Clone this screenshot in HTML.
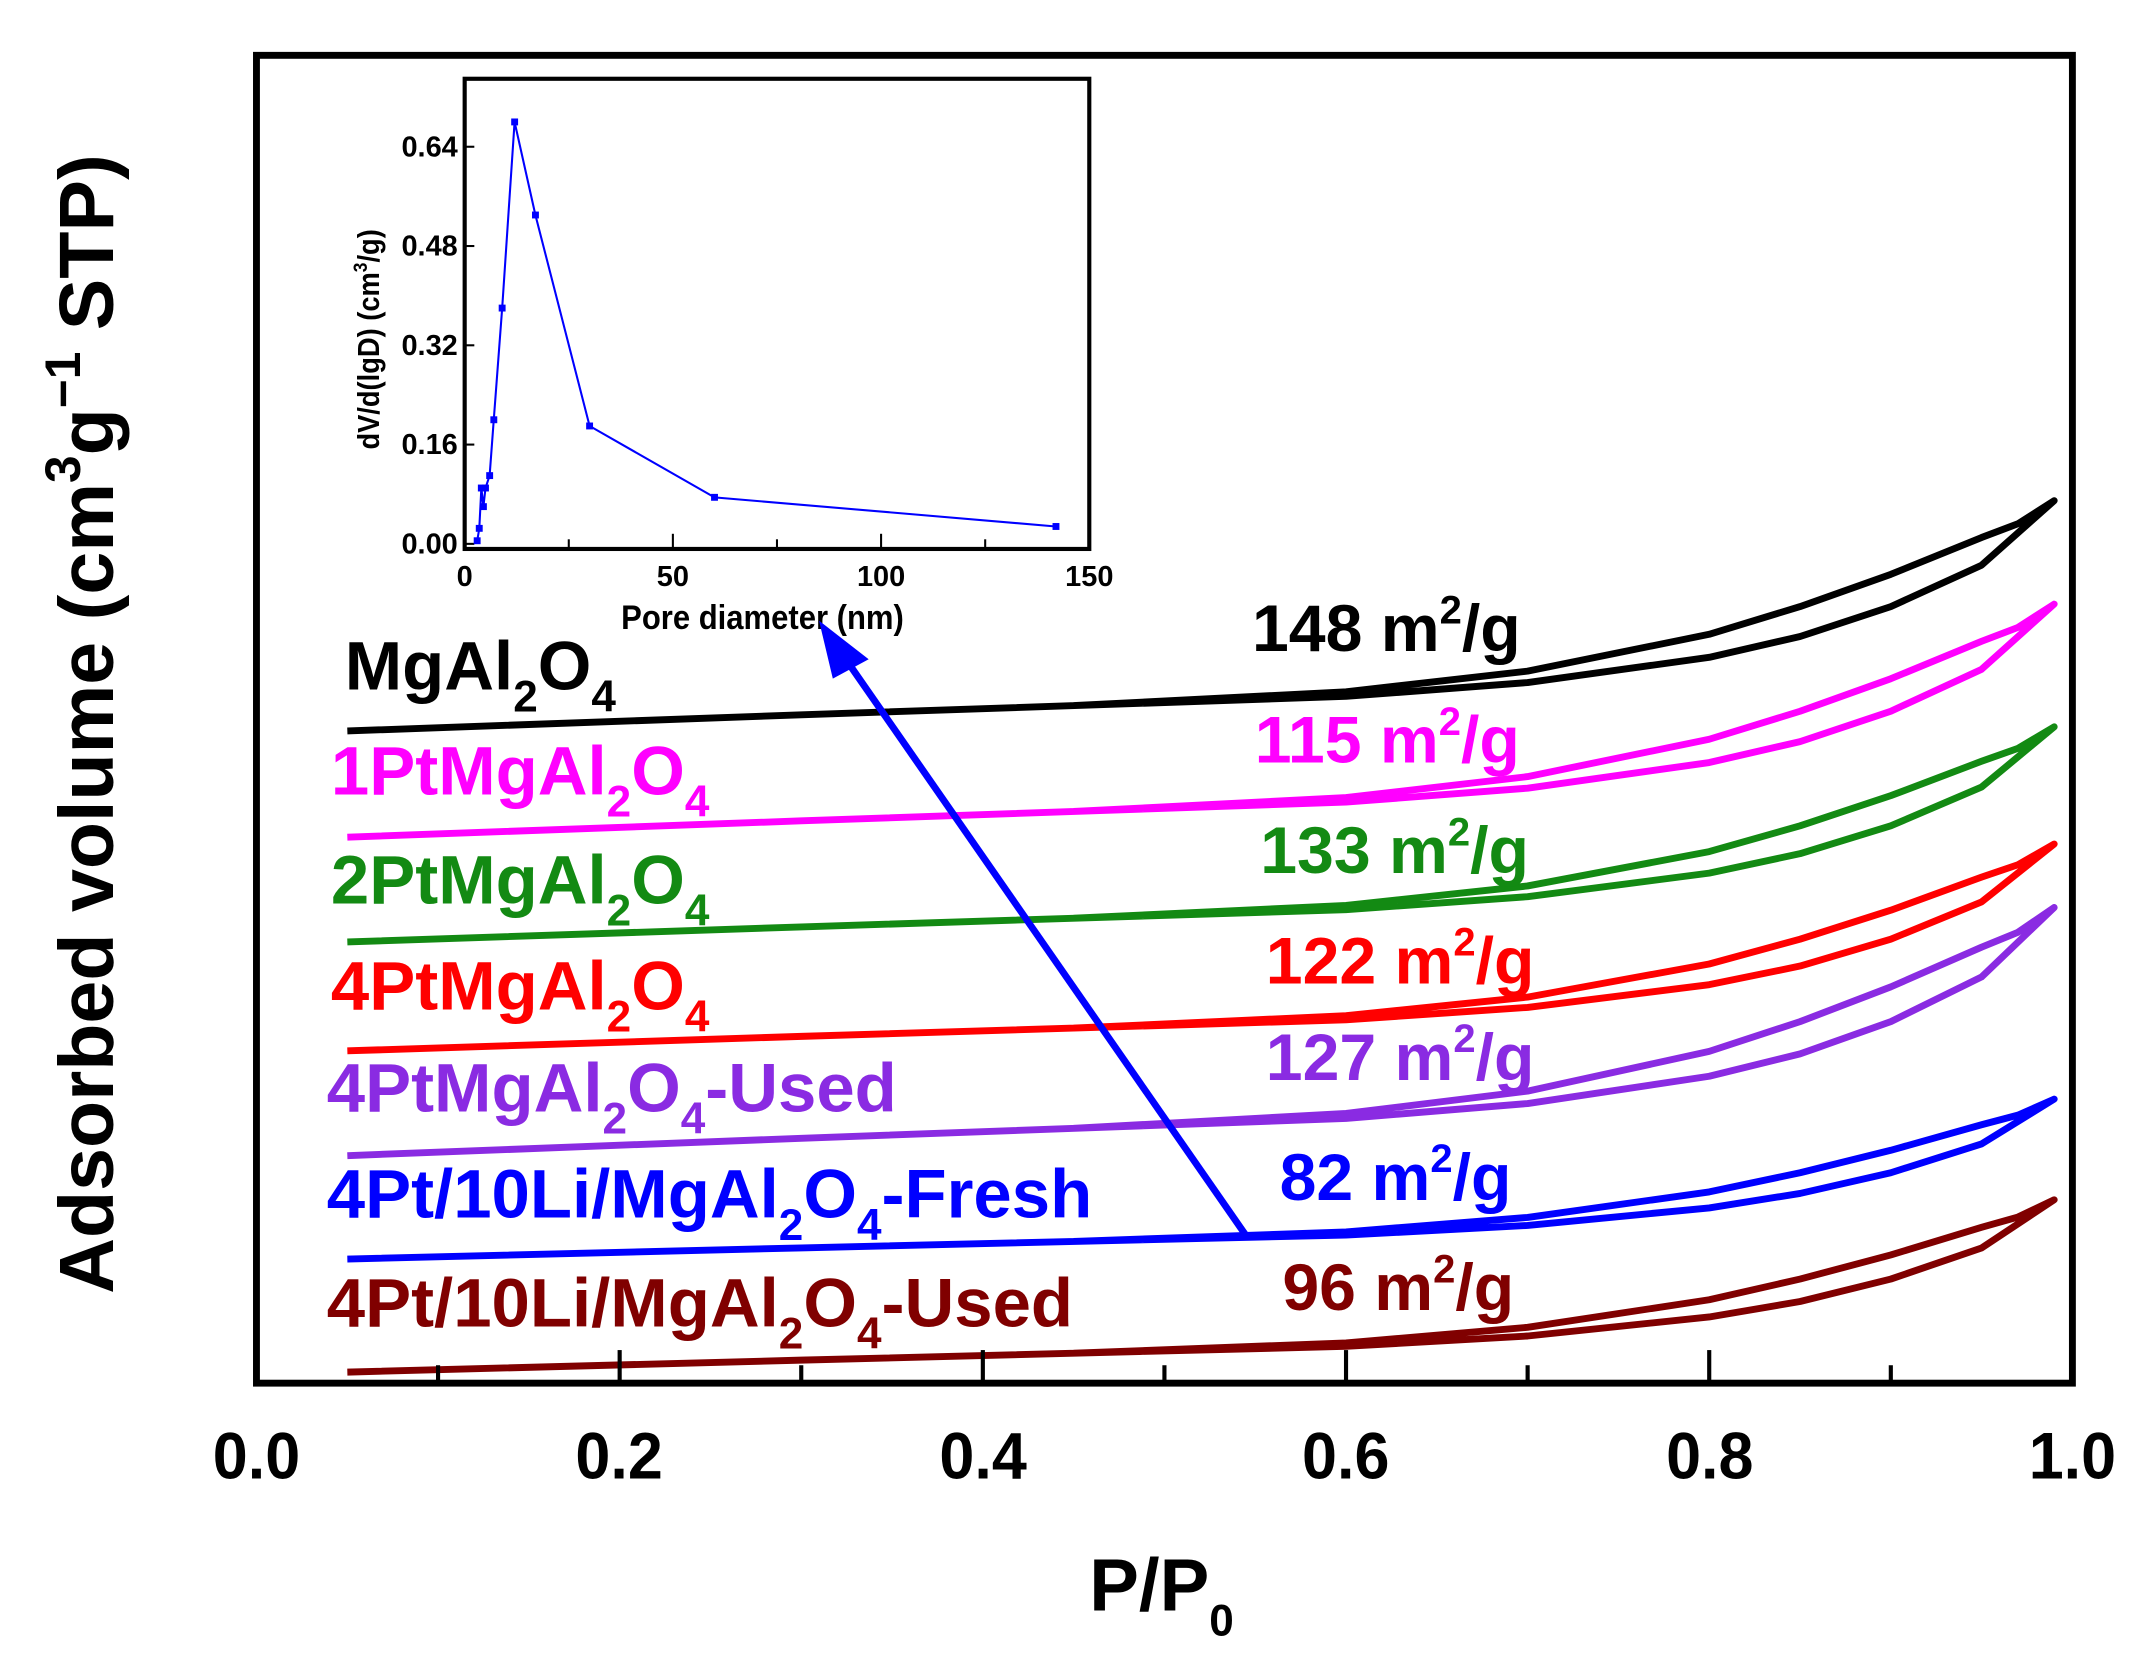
<!DOCTYPE html>
<html><head><meta charset="utf-8"><style>
html,body{margin:0;padding:0;background:#fff;}
svg{display:block}
text{font-family:"Liberation Sans",Arial,sans-serif;font-weight:bold}
</style></head><body>
<svg id="s" width="2151" height="1666" viewBox="0 0 1560 1208" xmlns="http://www.w3.org/2000/svg">
<rect x="0" y="0" width="1560" height="1208" fill="#fff"/>
<g id="curves"></g>
<rect x="186" y="40" width="1317" height="963" fill="none" stroke="#000" stroke-width="5"/>
<g id="ticks" stroke="#000" stroke-width="3"></g>
<g font-size="48" text-anchor="middle" fill="#000">
<text x="186" y="1072" transform="translate(186 0) scale(0.95 1) translate(-186 0)">0.0</text>
<text x="449" y="1072" transform="translate(449 0) scale(0.95 1) translate(-449 0)">0.2</text>
<text x="713" y="1072" transform="translate(713 0) scale(0.95 1) translate(-713 0)">0.4</text>
<text x="976" y="1072" transform="translate(976 0) scale(0.95 1) translate(-976 0)">0.6</text>
<text x="1240" y="1072" transform="translate(1240 0) scale(0.95 1) translate(-1240 0)">0.8</text>
<text x="1503" y="1072" transform="translate(1503 0) scale(0.95 1) translate(-1503 0)">1.0</text>
</g>
<text x="790" y="1168" font-size="54">P/P<tspan font-size="32" dy="18">0</tspan></text>
<text transform="translate(82 525) rotate(-90)" text-anchor="middle" font-size="56">Adsorbed volume (cm<tspan font-size="36" dy="-24">3</tspan><tspan dy="24">g</tspan><tspan font-size="36" dy="-24">−1</tspan><tspan dy="24"> STP)</tspan></text>

<g font-size="50">
<text x="250" y="500" fill="#000">MgAl<tspan font-size="32" dy="16">2</tspan><tspan dy="-16">O</tspan><tspan font-size="32" dy="16">4</tspan></text>
<text x="240" y="576" fill="#ff00ff">1PtMgAl<tspan font-size="32" dy="16">2</tspan><tspan dy="-16">O</tspan><tspan font-size="32" dy="16">4</tspan></text>
<text x="240" y="655" fill="#138a13">2PtMgAl<tspan font-size="32" dy="16">2</tspan><tspan dy="-16">O</tspan><tspan font-size="32" dy="16">4</tspan></text>
<text x="240" y="732" fill="#ff0000">4PtMgAl<tspan font-size="32" dy="16">2</tspan><tspan dy="-16">O</tspan><tspan font-size="32" dy="16">4</tspan></text>
<text x="237" y="806" fill="#8a2be2">4PtMgAl<tspan font-size="32" dy="16">2</tspan><tspan dy="-16">O</tspan><tspan font-size="32" dy="16">4</tspan><tspan dy="-16">-Used</tspan></text>
<text x="237" y="883" fill="#0000ff">4Pt/10Li/MgAl<tspan font-size="32" dy="16">2</tspan><tspan dy="-16">O</tspan><tspan font-size="32" dy="16">4</tspan><tspan dy="-16">-Fresh</tspan></text>
<text x="237" y="962" fill="#800000">4Pt/10Li/MgAl<tspan font-size="32" dy="16">2</tspan><tspan dy="-16">O</tspan><tspan font-size="32" dy="16">4</tspan><tspan dy="-16">-Used</tspan></text>
</g>
<g font-size="48">
<text x="908" y="472" fill="#000">148 m<tspan font-size="29" dy="-20">2</tspan><tspan dy="20">/g</tspan></text>
<text x="910" y="553" fill="#ff00ff">115 m<tspan font-size="29" dy="-20">2</tspan><tspan dy="20">/g</tspan></text>
<text x="914" y="633" fill="#138a13">133 m<tspan font-size="29" dy="-20">2</tspan><tspan dy="20">/g</tspan></text>
<text x="918" y="713" fill="#ff0000">122 m<tspan font-size="29" dy="-20">2</tspan><tspan dy="20">/g</tspan></text>
<text x="918" y="783" fill="#8a2be2">127 m<tspan font-size="29" dy="-20">2</tspan><tspan dy="20">/g</tspan></text>
<text x="928" y="870" fill="#0000ff">82 m<tspan font-size="29" dy="-20">2</tspan><tspan dy="20">/g</tspan></text>
<text x="930" y="950" fill="#800000">96 m<tspan font-size="29" dy="-20">2</tspan><tspan dy="20">/g</tspan></text>
</g>

<rect x="337" y="57" width="453" height="341" fill="#fff" stroke="#000" stroke-width="3"/>
<g id="iticks" stroke="#000" stroke-width="1.5"></g>
<g font-size="21" text-anchor="end" id="iyl"></g>
<g font-size="21" text-anchor="middle" id="ixl"></g>
<text x="553" y="456" font-size="25" text-anchor="middle" transform="translate(553 0) scale(0.9 1) translate(-553 0)">Pore diameter (nm)</text>
<text transform="translate(275 246) rotate(-90) scale(0.9 1)" text-anchor="middle" font-size="22">dV/d(lgD) (cm<tspan font-size="14" dy="-9">3</tspan><tspan dy="9">/g)</tspan></text>
<g id="inset"></g>

<line x1="903" y1="895" x2="612" y2="476" stroke="#0000ff" stroke-width="5"/>
<polygon points="594,450 630,478 604,492" fill="#0000ff"/>
</svg>
<script>
var NS="http://www.w3.org/2000/svg";
function el(t,a,p){var e=document.createElementNS(NS,t);for(var k in a)e.setAttribute(k,a[k]);document.getElementById(p).appendChild(e);return e;}
function X(P){return 186+P*1317;}
for(var i=1;i<10;i++){var x=X(i/10);var L=(i%2==0)?22:11;el('line',{x1:x,y1:1001,x2:x,y2:1001-L},'ticks');}
var series=[[530,363,'#000'],[607,438,'#ff00ff'],[683,527,'#138a13'],[762,612,'#ff0000'],[838,658,'#8a2be2'],[913,797,'#0000ff'],[995,870,'#800000']];
var ad=[[0.05,0],[0.3,0.07],[0.6,0.15],[0.7,0.21],[0.8,0.32],[0.85,0.41],[0.9,0.54],[0.95,0.72],[0.99,1]];
var de=[[0.99,1],[0.97,0.9],[0.95,0.84],[0.9,0.68],[0.85,0.54],[0.8,0.42],[0.7,0.26],[0.6,0.17],[0.45,0.11]];
series.forEach(function(s){var R=s[0]-s[1];var d='';
ad.forEach(function(p,i){d+=(i?'L':'M')+X(p[0]).toFixed(1)+','+(s[0]-p[1]*R).toFixed(1);});
de.forEach(function(p){d+='L'+X(p[0]).toFixed(1)+','+(s[0]-p[1]*R).toFixed(1);});
el('path',{d:d,fill:'none',stroke:s[2],'stroke-width':5,'stroke-linejoin':'round'},'curves');});
function ix(v){return 337+v/150*453;}function iy(v){return 394.3-v/0.16*72;}
[25,50,75,100,125].forEach(function(v){var L=(v%50==0)?10:6;el('line',{x1:ix(v),y1:397,x2:ix(v),y2:397-L},'iticks');});
[0,0.16,0.32,0.48,0.64].forEach(function(v){el('line',{x1:338,y1:iy(v),x2:344,y2:iy(v)},'iticks');
 var t=el('text',{x:332,y:iy(v)+7},'iyl');t.textContent=v.toFixed(2);});
[0,50,100,150].forEach(function(v){var t=el('text',{x:ix(v),y:425},'ixl');t.textContent=v;});
var pts=[[3,0.005],[3.5,0.025],[4,0.09],[4.5,0.06],[5,0.09],[6,0.11],[7,0.2],[9,0.38],[12,0.68],[17,0.53],[30,0.19],[60,0.075],[142,0.028]];
var d='';pts.forEach(function(p,i){d+=(i?'L':'M')+ix(p[0]).toFixed(1)+','+iy(p[1]).toFixed(1);});
el('path',{d:d,fill:'none',stroke:'#0000ff','stroke-width':1.5},'inset');
pts.forEach(function(p){el('rect',{x:ix(p[0])-2.5,y:iy(p[1])-2.5,width:5,height:5,fill:'#0000ff'},'inset');});
</script>
</body></html>
